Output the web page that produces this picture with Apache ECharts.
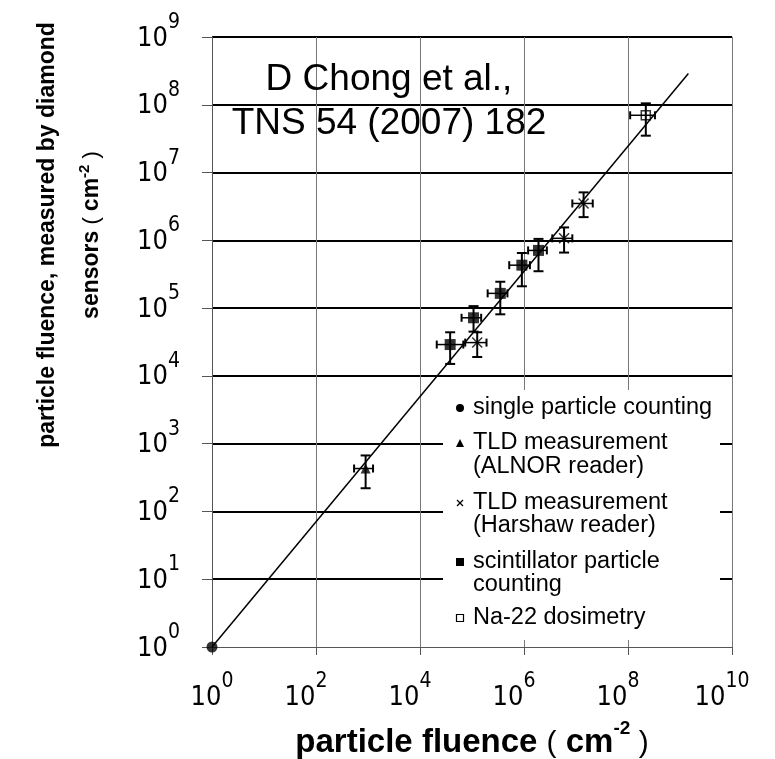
<!DOCTYPE html>
<html>
<head>
<meta charset="utf-8">
<script src="https://cdn.jsdelivr.net/npm/echarts@6/dist/echarts.min.js"></script>
<style>
  html, body { margin: 0; padding: 0; background: #fff; }
  #chart { width: 775px; height: 759px; }
</style>
</head>
<body>
<div id="chart"></div>
<script>
// each row: [x, y, xLow, xHigh, yLow, yHigh]
const singleCount = [[1, 1]];
const tldAlnor = [[900, 430, 540, 1250, 220, 670]];
const tldHarshaw = [
  [1.26e5, 3.1e4, 7.4e4, 1.9e5, 1.9e4, 4.4e4],
  [5.9e6, 1.07e6, 3.5e6, 8.5e6, 6.6e5, 1.55e6],
  [1.4e7, 3.5e6, 8.5e6, 2.1e7, 2.2e6, 5.1e6]
];
const scintCount = [
  [3.8e4, 2.9e4, 2.1e4, 6.8e4, 1.5e4, 4.4e4],
  [1.07e5, 7.2e4, 6.3e4, 1.5e5, 4.5e4, 1.07e5],
  [3.5e5, 1.65e5, 2.0e5, 4.8e5, 8.1e4, 2.45e5],
  [9.1e5, 4.3e5, 5.2e5, 1.3e6, 2.1e5, 6.5e5],
  [1.9e6, 7.1e5, 1.2e6, 2.75e6, 3.5e5, 1.05e6]
];
const na22 = [[2.2e8, 7e7, 1.1e8, 3.3e8, 3.5e7, 1.05e8]];
const fitLine = [[1, 1], [1.45e9, 2.9e8]];

const legendLines = [
  ['single particle counting'],
  ['TLD measurement', '(ALNOR reader)'],
  ['TLD measurement', '(Harshaw reader)'],
  ['scintillator particle', 'counting'],
  ['Na-22 dosimetry']
];
const citation = ['D Chong et al.,', 'TNS 54 (2007) 182'];

const chart = echarts.init(document.getElementById('chart'));

const tickFont = "'DejaVu Sans Condensed', 'DejaVu Sans', sans-serif";
const titleFont = "'Liberation Sans', Arial, sans-serif";
const textFont = "'Liberation Sans', Arial, sans-serif";

const powRich = {
  b: { fontFamily: tickFont, fontSize: 27, color: '#000', lineHeight: 40, verticalAlign: 'bottom' },
  s: { fontFamily: tickFont, fontSize: 21, color: '#000', lineHeight: 28, verticalAlign: 'top' },
  sp: { fontFamily: tickFont, fontSize: 21, color: '#000', lineHeight: 28, verticalAlign: 'top', padding: [0, 20, 0, 0] }
};
function powLabel(v) {
  const e = Math.round(Math.log10(v));
  return '{b|10}{s|' + e + '}';
}
// x labels in the source sit a little left of their ticks
function xPowLabel(v) {
  const e = Math.round(Math.log10(v));
  return '{b|10}{' + (e > 0 ? 'sp' : 's') + '|' + e + '}';
}

function errBars(params, api) {
  const x = api.value(0), y = api.value(1);
  const l = api.coord([api.value(2), y]);
  const r = api.coord([api.value(3), y]);
  const b = api.coord([x, api.value(4)]);
  const t = api.coord([x, api.value(5)]);
  const seg = (x1, y1, x2, y2, w) => ({
    type: 'line',
    shape: { x1: x1, y1: y1, x2: x2, y2: y2 },
    style: { stroke: '#000', lineWidth: w }
  });
  return {
    type: 'group',
    children: [
      seg(l[0], l[1], r[0], r[1], 1.5),
      seg(l[0], l[1] - 4, l[0], l[1] + 4, 2),
      seg(r[0], r[1] - 4, r[0], r[1] + 4, 2),
      seg(b[0], b[1], t[0], t[1], 2),
      seg(b[0] - 5, b[1], b[0] + 5, b[1], 2),
      seg(t[0] - 5, t[1], t[0] + 5, t[1], 2)
    ]
  };
}
const errSeries = (data) => ({
  type: 'custom',
  renderItem: errBars,
  data: data,
  encode: { x: 0, y: 1 },
  z: 3,
  silent: true
});

const crossPath = 'path://M0,0L10,10M10,0L0,10';

// legend drawn as a white box over the grid
const legendX = 443, legendTop = 390;
const rowY = [[408], [443, 467], [503, 526], [562, 585], [618]];
const legendItems = [{
  type: 'rect', left: legendX, top: legendTop, z: 10,
  shape: { width: 277, height: 250 },
  style: { fill: '#fff' }
}];
legendLines.forEach((lines, i) => {
  lines.forEach((txt, j) => {
    legendItems.push({
      type: 'text', x: 473, y: rowY[i][j], z: 11,
      style: { text: txt, font: '23.5px ' + textFont, fill: '#000', verticalAlign: 'middle', align: 'left' }
    });
  });
});
const mk = { fill: '#000' };
legendItems.push(
  { type: 'circle', z: 11, shape: { cx: 460, cy: rowY[0][0], r: 4 }, style: mk },
  { type: 'polygon', z: 11, shape: { points: [[456, rowY[1][0] + 4], [464, rowY[1][0] + 4], [460, rowY[1][0] - 4]] }, style: mk },
  { type: 'polyline', z: 11, shape: { points: [[457, rowY[2][0] - 3], [463, rowY[2][0] + 3]] }, style: { stroke: '#000', lineWidth: 1.2 } },
  { type: 'polyline', z: 11, shape: { points: [[463, rowY[2][0] - 3], [457, rowY[2][0] + 3]] }, style: { stroke: '#000', lineWidth: 1.2 } },
  { type: 'rect', z: 11, shape: { x: 456, y: rowY[3][0] - 4, width: 8, height: 8 }, style: mk },
  { type: 'rect', z: 11, shape: { x: 456.5, y: rowY[4][0] - 3.5, width: 7, height: 7 }, style: { fill: '#fff', stroke: '#000', lineWidth: 1.2 } }
);
legendItems.push({
  type: 'text', x: 389, y: 102, z: 11,
  style: {
    text: citation.join('\n'), font: '37px ' + textFont, fill: '#000',
    align: 'center', verticalAlign: 'middle', lineHeight: 44
  }
});

const option = {
  animation: false,
  backgroundColor: '#fff',
  grid: { left: 212, right: 43, top: 37, bottom: 112, outerBoundsMode: 'none' },
  xAxis: {
    type: 'log',
    logBase: 10,
    min: 1,
    max: 1e10,
    interval: 2,
    axisLine: { show: true, lineStyle: { color: '#555', width: 1 } },
    axisTick: { show: true, length: 8, lineStyle: { color: '#555', width: 1 } },
    splitLine: { show: true, lineStyle: { color: '#777', width: 1 } },
    axisLabel: { margin: 24, formatter: xPowLabel, rich: powRich },
    name: '{t|particle fluence }{p|(}{t| cm}{s|-2}{p| )}',
    nameLocation: 'middle',
    nameGap: 72,
    nameTextStyle: {
      rich: {
        t: { fontFamily: titleFont, fontWeight: 'bold', fontSize: 33, color: '#000', lineHeight: 40, verticalAlign: 'bottom' },
        p: { fontFamily: titleFont, fontWeight: 'normal', fontSize: 30, color: '#000', lineHeight: 40, verticalAlign: 'bottom' },
        s: { fontFamily: titleFont, fontWeight: 'bold', fontSize: 19, color: '#000', lineHeight: 24, verticalAlign: 'top' }
      }
    }
  },
  yAxis: {
    type: 'log',
    logBase: 10,
    min: 1,
    max: 1e9,
    interval: 1,
    axisLine: { show: true, lineStyle: { color: '#555', width: 1 } },
    axisTick: { show: true, length: 10, lineStyle: { color: '#555', width: 1 } },
    splitLine: { show: true, showMinLine: false, lineStyle: { color: '#000', width: 2 } },
    axisLabel: { margin: 32, formatter: powLabel, rich: powRich, padding: [0, 0, 10, 0] },
    name: '{t|particle fluence, measured by diamond}\n{t|sensors}{p| ( }{t|cm}{s|-2}{p| )}',
    nameLocation: 'middle',
    nameRotate: 90,
    nameGap: 98,
    nameTextStyle: {
      padding: [0, 0, 0, 214],
      lineHeight: 44,
      rich: {
        t: { fontFamily: titleFont, fontWeight: 'bold', fontSize: 23, color: '#000', lineHeight: 44 },
        p: { fontFamily: titleFont, fontWeight: 'normal', fontSize: 22, color: '#000', lineHeight: 44 },
        s: { fontFamily: titleFont, fontWeight: 'bold', fontSize: 15, color: '#000', lineHeight: 44, padding: [0, 0, 14, 0] }
      }
    }
  },
  graphic: { elements: legendItems },
  series: [
    {
      name: 'fit', type: 'line', data: fitLine, symbol: 'none', z: 2,
      lineStyle: { color: '#000', width: 1.5 }, silent: true
    },
    errSeries(tldAlnor),
    errSeries(tldHarshaw),
    errSeries(scintCount),
    errSeries(na22),
    {
      name: 'single particle counting', type: 'scatter', data: singleCount, z: 4,
      symbol: 'circle', symbolSize: 11, itemStyle: { color: '#000' }
    },
    {
      name: 'TLD measurement (ALNOR reader)', type: 'scatter', data: tldAlnor, z: 4,
      symbol: 'triangle', symbolSize: 10, itemStyle: { color: '#000' }
    },
    {
      name: 'TLD measurement (Harshaw reader)', type: 'scatter', data: tldHarshaw, z: 4,
      symbol: crossPath, symbolSize: 10,
      itemStyle: { color: 'transparent', borderColor: '#000', borderWidth: 1.5 }
    },
    {
      name: 'scintillator particle counting', type: 'scatter', data: scintCount, z: 4,
      symbol: 'rect', symbolSize: 11, itemStyle: { color: '#000' }
    },
    {
      name: 'Na-22 dosimetry', type: 'scatter', data: na22, z: 4,
      symbol: 'rect', symbolSize: 9,
      itemStyle: { color: 'transparent', borderColor: '#000', borderWidth: 1.5 }
    }
  ]
};

chart.setOption(option);
</script>
</body>
</html>
